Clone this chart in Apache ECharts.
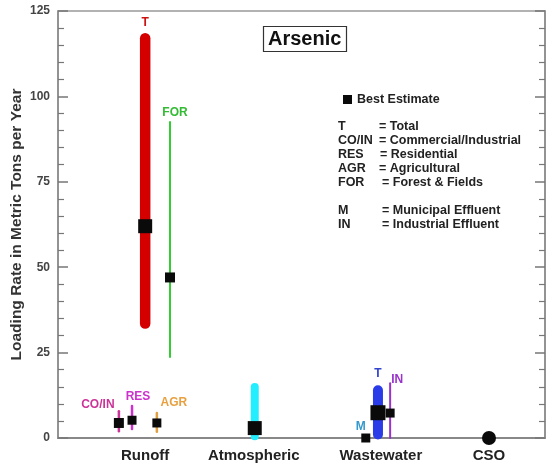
<!DOCTYPE html>
<html>
<head>
<meta charset="utf-8">
<script src="https://cdn.jsdelivr.net/npm/echarts@6/dist/echarts.min.js"></script>
<style>
html,body{margin:0;padding:0;background:#fff;}
#chart{width:546px;height:468px;}
</style>
</head>
<body>
<div id="chart"></div>
<script>
// ---- data ----
const categories = ['Runoff', 'Atmospheric', 'Wastewater', 'CSO'];
const sourceLabels = ['T', 'CO/IN', 'RES', 'AGR', 'FOR', '', 'T', 'M', 'IN', ''];
const sourceGroup = ['Runoff', 'Runoff', 'Runoff', 'Runoff', 'Runoff', 'Atmospheric', 'Wastewater', 'Wastewater', 'Wastewater', 'CSO'];
const rangeLow = [33.5, 2, 2.6, 1.8, 23.7, 0.5, 1, null, 0, null];
const rangeHigh = [117, 7.8, 9.4, 7.3, 92.5, 14.9, 14, null, 16, null];
const bestEstimate = [62, 4.4, 5.2, 4.4, 47, 2.9, 7.4, 0, 7.3, 0];
const yTicks = [0, 25, 50, 75, 100, 125];
const legendAbbr = ['T', 'CO/IN', 'RES', 'AGR', 'FOR', 'M', 'IN'];
const legendMeaning = ['= Total', '= Commercial/Industrial', '= Residential', '= Agricultural', '= Forest & Fields', '= Municipal Effluent', '= Industrial Effluent'];

// ---- layout / style (not data) ----
const catX = [17.9, 40.2, 66.3, 88.5];
const itemX = [17.9, 12.5, 15.2, 20.3, 23.0, 40.4, 65.7, 63.2, 68.2, 88.5];
const lineColor = ['#d40000', '#cc3399', '#cc33cc', '#e0a040', '#33cc33', '#22eeff', '#2a3be8', '#000', '#9933cc', '#000'];
const lineWidth = [10.5, 2.5, 2.5, 2.5, 2, 8, 10, 0, 2, 0];
const labelColor = ['#cc1111', '#cc3399', '#cc33cc', '#e8a040', '#33bb33', '#000', '#3344cc', '#3399cc', '#9933cc', '#000'];
const labelOffset = [[0, -16], [-21, -7], [6, -9], [17, -10], [5, -9], [0, 0], [0, -16], [-5, -11], [7, -4], [0, 0]];
const markerSize = [14, 10, 9, 9, 10, 14, 15, 9, 9, 14];
const markerShape = ['rect', 'rect', 'rect', 'rect', 'rect', 'rect', 'rect', 'rect', 'rect', 'circle'];
const legendRowY = [128, 142, 156, 170, 184, 212, 226];
const legendEqX = [379, 379, 380, 379, 382, 382, 382];

const FONT = '"Liberation Sans", Arial, sans-serif';

const rangeData = sourceLabels.map((_, i) => [itemX[i], rangeLow[i] == null ? NaN : rangeLow[i], rangeHigh[i] == null ? NaN : rangeHigh[i], bestEstimate[i]]);
const bestData = sourceLabels.map((_, i) => ({ value: [itemX[i], bestEstimate[i]], symbol: markerShape[i], symbolSize: markerSize[i] }));

const chart = echarts.init(document.getElementById('chart'), null, { renderer: 'canvas' });

const yAxisCommon = {
  type: 'value', min: 0, max: 125, interval: 25,
  axisLine: { show: true, lineStyle: { color: '#888', width: 1.5 } },
  axisTick: { show: true, inside: true, length: 10, lineStyle: { color: '#777', width: 1.5 } },
  minorTick: { show: true, splitNumber: 5, length: 6, lineStyle: { color: '#777', width: 1.2 } },
  splitLine: { show: false }
};

const graphicEls = [];
legendAbbr.forEach((a, i) => {
  graphicEls.push({ type: 'text', left: 338, top: legendRowY[i] - 8, style: { text: a, font: 'bold 12.5px ' + FONT, fill: '#222' } });
  graphicEls.push({ type: 'text', left: legendEqX[i], top: legendRowY[i] - 8, style: { text: legendMeaning[i], font: 'bold 12.5px ' + FONT, fill: '#222' } });
});

chart.setOption({
  animation: false,
  backgroundColor: '#fff',
  title: {
    text: 'Arsenic', left: 263, top: 26,
    borderColor: '#333', borderWidth: 1.2, padding: [3, 5],
    textStyle: { fontFamily: FONT, fontWeight: 'bold', fontSize: 20, color: '#111', lineHeight: 20 }
  },
  legend: {
    data: [{ name: 'Best Estimate', icon: 'rect' }],
    left: 338, top: 88, itemWidth: 9, itemHeight: 9, itemGap: 8,
    textStyle: { fontFamily: FONT, fontWeight: 'bold', fontSize: 12.5, color: '#222' }
  },
  grid: { left: 58, right: 1, top: 11, bottom: 30, show: true, borderColor: '#999', borderWidth: 1.5, containLabel: false, outerBoundsMode: 'none' },
  xAxis: {
    type: 'value', min: 0, max: 100,
    axisLine: { show: true, onZero: false, lineStyle: { color: '#888', width: 2 } },
    axisTick: { show: false },
    splitLine: { show: false },
    axisLabel: {
      customValues: catX, margin: 10,
      formatter: v => { const k = catX.findIndex(c => Math.abs(c - v) < 0.01); return k >= 0 ? categories[k] : ''; },
      fontFamily: FONT, fontWeight: 'bold', fontSize: 15, color: '#222'
    }
  },
  yAxis: [
    Object.assign({}, yAxisCommon, {
      position: 'left',
      name: 'Loading Rate in Metric Tons per Year', nameLocation: 'middle', nameGap: 33, nameMoveOverlap: false,
      nameTextStyle: { fontFamily: FONT, fontWeight: 'bold', fontSize: 15.5, color: '#333' },
      axisLabel: { margin: 8, fontFamily: FONT, fontWeight: 'bold', fontSize: 12, color: '#444', formatter: v => yTicks.includes(v) ? String(v) : '' }
    }),
    Object.assign({}, yAxisCommon, { position: 'right', axisLabel: { show: false } })
  ],
  graphic: graphicEls,
  series: [
    {
      type: 'custom', name: 'ranges', silent: true,
      data: rangeData,
      encode: { x: 0, y: [1, 2] },
      clip: false,
      renderItem: (params, api) => {
        const i = params.dataIndex;
        const x = api.value(0), lo = api.value(1), hi = api.value(2), best = api.value(3);
        const children = [];
        let anchorVal = best;
        if (!isNaN(lo) && !isNaN(hi)) {
          const p1 = api.coord([x, lo]), p2 = api.coord([x, hi]);
          children.push({ type: 'line', shape: { x1: p1[0], y1: p1[1], x2: p2[0], y2: p2[1] }, style: { stroke: lineColor[i], lineWidth: lineWidth[i], lineCap: 'round' } });
          anchorVal = hi;
        }
        if (sourceLabels[i]) {
          const pa = api.coord([x, anchorVal]);
          children.push({ type: 'text', x: pa[0] + labelOffset[i][0], y: pa[1] + labelOffset[i][1], style: { text: sourceLabels[i], font: 'bold 12px ' + FONT, fill: labelColor[i], align: 'center', verticalAlign: 'middle' } });
        }
        return { type: 'group', children };
      },
      z: 2
    },
    {
      type: 'scatter', name: 'Best Estimate',
      data: bestData,
      itemStyle: { color: '#0a0a0a', opacity: 1 },
      clip: false,
      z: 3
    }
  ]
});
</script>
</body>
</html>
